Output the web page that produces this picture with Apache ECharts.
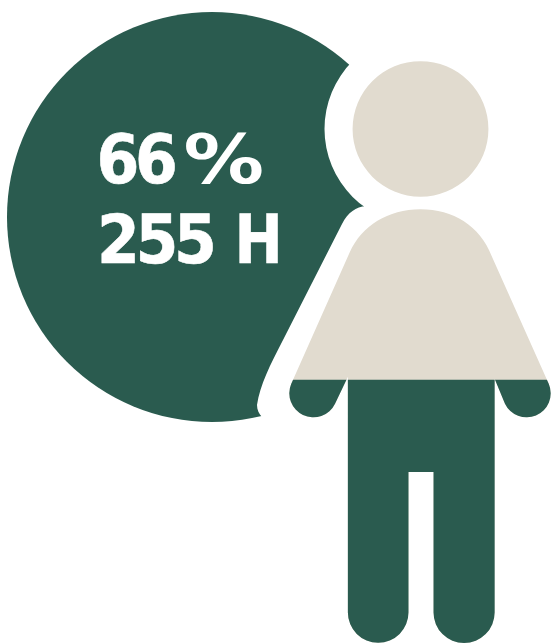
<!DOCTYPE html>
<html>
<head>
<meta charset="utf-8">
<style>html,body{margin:0;padding:0;background:#fff}#chart{width:551px;height:643px}</style>
<script src="https://cdn.jsdelivr.net/npm/echarts@6/dist/echarts.min.js"></script>
</head>
<body>
<div id="chart"></div>
<script>
// Share of the group and the hours it stands for
const categories = ['Personne'];
const shareValues = [66];
const hourValues = [255];
const shareGlyphs = ['6', '6', '%'];
const hourGlyphs = ['2', '5', '5', 'H'];

// The figure's full height on the hidden value axis
const figureTop = 145.8;

const GREEN = '#2A5B4F';
const BEIGE = '#E1DBCF';

// Body outline and head of the figure
const personPath = 'path://M350 252C362 226 388 209.3 420.5 209.3C453 209.3 480 226 491.5 256' +
  'L548.6 384.2A24 24 0 0 1 504.8 403.8L494.5 379L494.5 612.75A30.25 30.25 0 0 1 433.5 612.75' +
  'L433.5 472.3L408.5 472.3L408.5 612.75A30.25 30.25 0 0 1 348 612.75L348 377L335.2 403.8' +
  'A24 24 0 0 1 291.4 384.2Z' +
  'M352.7 129A67.8 67.8 0 1 1 488.3 129A67.8 67.8 0 1 1 352.7 129Z';

// White margin that cuts the figure's head and shoulders out of the disc
const haloPath = 'path://M420 181L366 206C356 207 348 212 342 224L283 340C270 365 260 385 257 405' +
  'C257 410 259 414 262 417L420 470Z' +
  'M324.5 129A96 96 0 1 0 516.5 129A96 96 0 1 0 324.5 129Z';

const figureBase = {
  type: 'pictorialBar',
  symbolSize: ['100%', '100%'],
  symbolPosition: 'start',
  symbolBoundingData: figureTop,
  barGap: '-100%',
  barWidth: '100%',
  silent: true
};

// Places glyphs one by one so the tight spacing of the label survives
function glyphRow(glyphs, xs, y, widths) {
  return glyphs.map((g, i) => ({
    type: 'text', z: 10, silent: true, x: xs[i], y: y, scaleX: widths[i],
    style: {
      text: g, fill: '#fff', stroke: '#fff', lineWidth: g === '%' ? 0 : 0.6,
      font: 'bold 67px "DejaVu Sans"', verticalAlign: 'middle'
    }
  }));
}

const chart = echarts.init(document.getElementById('chart'), null, { renderer: 'canvas' });
chart.setOption({
  animation: false,
  grid: [
    { left: 289.3, top: 61.2, width: 261.4, height: 582, containLabel: false },
    { left: 257, top: 33, width: 259.5, height: 437, containLabel: false }
  ],
  xAxis: [
    { type: 'category', gridIndex: 0, data: categories, show: false },
    { type: 'category', gridIndex: 1, data: categories, show: false }
  ],
  yAxis: [
    { type: 'value', gridIndex: 0, min: 0, max: figureTop, show: false },
    { type: 'value', gridIndex: 1, min: 0, max: figureTop, show: false }
  ],
  series: [
    {
      type: 'pie',
      z: 1,
      silent: true,
      center: [212, 217],
      radius: [0, 205],
      label: { show: false },
      labelLine: { show: false },
      itemStyle: { color: GREEN },
      data: [{ name: 'H', value: hourValues[0] }]
    },
    Object.assign({}, figureBase, {
      z: 2,
      xAxisIndex: 1,
      yAxisIndex: 1,
      symbol: haloPath,
      itemStyle: { color: '#fff' },
      data: [figureTop]
    }),
    Object.assign({}, figureBase, {
      z: 3,
      symbol: personPath,
      itemStyle: { color: BEIGE },
      data: [figureTop]
    }),
    // Lower part of the figure, filled up to the share value
    Object.assign({}, figureBase, {
      z: 4,
      symbol: personPath,
      symbolClip: true,
      itemStyle: { color: GREEN },
      data: shareValues
    })
  ],
  graphic: glyphRow(shareGlyphs, [96.5, 135, 183.5], 166, [0.92, 0.92, 1.2])
    .concat(glyphRow(hourGlyphs, [97, 135.5, 174, 234.5], 246, [0.92, 0.92, 0.92, 0.86]))
});
</script>
</body>
</html>
